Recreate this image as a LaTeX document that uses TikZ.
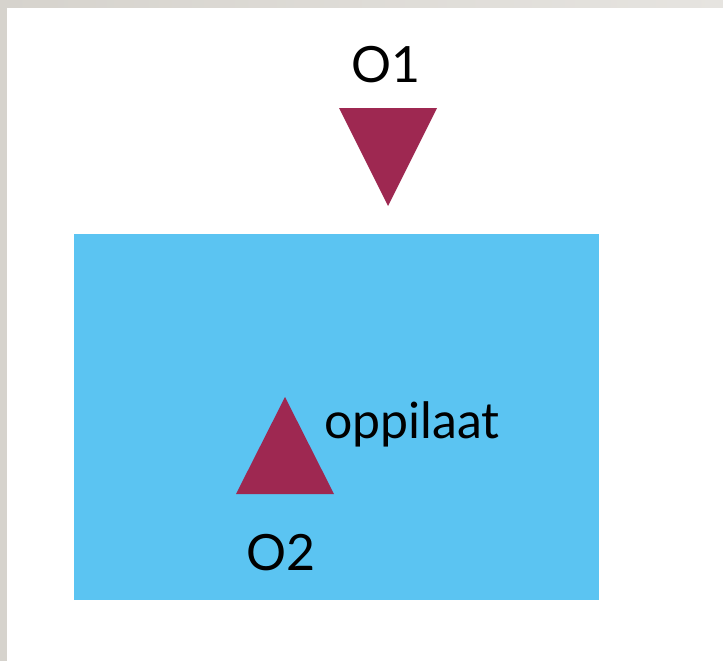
\documentclass[tikz,border=0pt]{standalone}
\usepackage{fontspec}
\setmainfont{Lato}
\definecolor{band}{HTML}{D6D3CD}
\definecolor{bandR}{HTML}{E6E4E0}
\definecolor{skyblue}{HTML}{5BC4F2}
\definecolor{wine}{HTML}{9E2851}
\begin{document}
\begin{tikzpicture}[x=1pt,y=-1pt,
  lbl/.style={anchor=base,inner sep=0pt,font=\fontsize{50}{50}\selectfont,text=black},
  tri/.style={fill=wine,draw=none}]
\useasboundingbox (0,0) rectangle (723,661);
\fill[white] (0,0) rectangle (723,661);
\shade[left color=band,right color=bandR] (0,0) rectangle (723,8);
\fill[band] (0,0) rectangle (7,661);
\fill[skyblue] (74,234) rectangle (599,600);
\fill[tri] (339,108) -- (437,108) -- (388,206) -- cycle;
\fill[tri] (285,397) -- (334,494) -- (236,494) -- cycle;
\node[lbl] (o1) at (386,82) {O1};
\node[lbl,anchor=base west] (opp) at (324,438) {oppilaat};
\node[lbl] (o2) at (281,570) {O2};
\end{tikzpicture}
\end{document}
